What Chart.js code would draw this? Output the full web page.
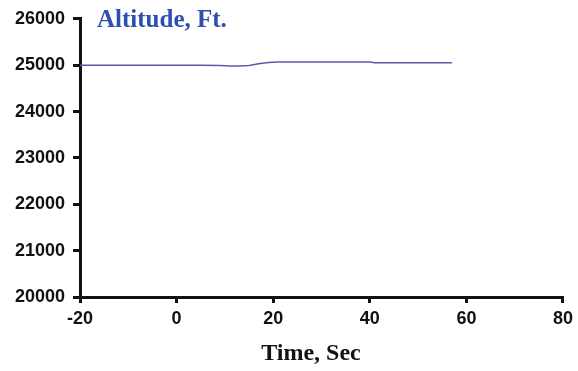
<!DOCTYPE html>
<html>
<head>
<meta charset="utf-8">
<script src="https://cdn.jsdelivr.net/npm/chart.js@4"></script>
<style>
  html, body { margin: 0; padding: 0; background: #fff; }
  #wrap { width: 578px; height: 371px; }
</style>
</head>
<body>
<div id="wrap"><canvas id="myChart"></canvas></div>
<script>
// time in seconds and altitude in feet
const timeSec = [-20, -10, 0, 5, 9, 11, 13, 15, 17, 19, 21, 30, 40, 41, 50, 57];
const altitudeFt = [25000, 25000, 25000, 25000, 24992, 24980, 24980, 24992, 25030, 25060, 25068, 25068, 25068, 25050, 25050, 25050];

const xTicks = [-20, 0, 20, 40, 60, 80];
const yTicks = [20000, 21000, 22000, 23000, 24000, 25000, 26000];

const points = [];
for (let i = 0; i < timeSec.length; i++) {
  points.push({ x: timeSec[i], y: altitudeFt[i] });
}

// titles are drawn by hand so they can sit where the original has them
const titles = {
  id: "titles",
  afterDraw(chart) {
    const ctx = chart.ctx;
    ctx.save();
    ctx.textBaseline = "alphabetic";
    ctx.font = "bold 25px 'Liberation Serif', 'Times New Roman', serif";
    ctx.fillStyle = "#2f4fb0";
    ctx.textAlign = "left";
    ctx.fillText("Altitude, Ft.", chart.chartArea.left + 17, 27);

    ctx.font = "bold 24px 'Liberation Serif', 'Times New Roman', serif";
    ctx.fillStyle = "#111";
    ctx.textAlign = "center";
    ctx.fillText("Time, Sec", 311, 360);
    ctx.restore();
  },
};

const ctx = document.getElementById("myChart");

new Chart(ctx, {
  type: "line",
  data: {
    datasets: [
      {
        label: "Altitude",
        data: points,
        borderColor: "#5a5aa8",
        borderWidth: 1.5,
        pointRadius: 0,
        tension: 0,
        fill: false,
      },
    ],
  },
  options: {
    responsive: true,
    maintainAspectRatio: false,
    animation: false,
    layout: { padding: { left: 0, right: 13, top: 18, bottom: 0 } },
    plugins: {
      legend: { display: false },
      tooltip: { enabled: false },
    },
    scales: {
      x: {
        type: "linear",
        min: -20,
        max: 80,
        afterBuildTicks: (s) => { s.ticks = xTicks.map((v) => ({ value: v })); },
        afterFit: (s) => { s.height = 74; },
        border: { display: true, color: "#111", width: 3 },
        grid: { drawOnChartArea: false, drawTicks: true, tickLength: 6, color: "#111", lineWidth: 3 },
        ticks: {
          padding: 5,
          color: "#111",
          font: { family: "'Liberation Sans', Arial, sans-serif", weight: "bold", size: 18 },
        },
      },
      y: {
        type: "linear",
        min: 20000,
        max: 26000,
        afterBuildTicks: (s) => { s.ticks = yTicks.map((v) => ({ value: v })); },
        afterFit: (s) => { s.width = 80; },
        border: { display: true, color: "#111", width: 3 },
        grid: { drawOnChartArea: false, drawTicks: true, tickLength: 7, color: "#111", lineWidth: 3 },
        ticks: {
          padding: 8,
          color: "#111",
          callback: (v) => String(v),
          font: { family: "'Liberation Sans', Arial, sans-serif", weight: "bold", size: 18 },
        },
      },
    },
  },
  plugins: [titles],
});
</script>
</body>
</html>
